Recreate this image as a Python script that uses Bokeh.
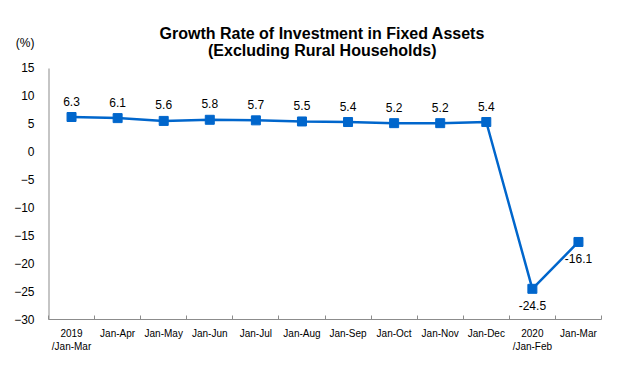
from bokeh.plotting import figure
from bokeh.models import FixedTicker, Label, ColumnDataSource, Range1d
from bokeh.embed import file_html
from bokeh.resources import INLINE
from bokeh.core.properties import value

categories = ["2019\n/Jan-Mar", "Jan-Apr", "Jan-May", "Jan-Jun", "Jan-Jul", "Jan-Aug",
              "Jan-Sep", "Jan-Oct", "Jan-Nov", "Jan-Dec", "2020\n/Jan-Feb", "Jan-Mar"]
growth = [6.3, 6.1, 5.6, 5.8, 5.7, 5.5, 5.4, 5.2, 5.2, 5.4, -24.5, -16.1]
y_ticks = [15, 10, 5, 0, -5, -10, -15, -20, -25, -30]
title_lines = ["Growth Rate of Investment in Fixed Assets", "(Excluding Rural Households)"]
unit_label = "(%)"

FONT = "Liberation Sans"
BLUE = "#0066CC"
AXIS = "#8c8c8c"

y_min, y_max = min(y_ticks), max(y_ticks)
header_room = 8.6  # extra value-space above the axis for the header text

xs = [i + 0.5 for i in range(len(categories))]
labels = [f"{v:.1f}" for v in growth]
above = [v > -10 for v in growth]

p = figure(width=603, height=357, output_backend="svg", toolbar_location=None,
           x_range=Range1d(0, len(categories)), y_range=Range1d(y_min, y_max + header_room),
           min_border_left=48, min_border_right=2, min_border_top=20, min_border_bottom=38)
p.outline_line_color = None
p.grid.visible = False
p.background_fill_color = "white"
p.border_fill_color = "white"

# y axis line (only over the value span)
p.segment(x0=[0], y0=[y_min], x1=[0], y1=[y_max], line_color=AXIS, line_width=2)

p.line(xs, growth, line_color=BLUE, line_width=2.5)
p.scatter(xs, growth, marker="square", size=9, fill_color=BLUE, line_color=BLUE)

src_up = ColumnDataSource(dict(x=[x for x, a in zip(xs, above) if a],
                               y=[v for v, a in zip(growth, above) if a],
                               t=[l for l, a in zip(labels, above) if a]))
src_dn = ColumnDataSource(dict(x=[x for x, a in zip(xs, above) if not a],
                               y=[v for v, a in zip(growth, above) if not a],
                               t=[l for l, a in zip(labels, above) if not a]))
p.text(x="x", y="y", text="t", source=src_up, y_offset=-16, text_align="center",
       text_baseline="middle", text_font=value(FONT), text_font_size="12px", text_color="#000000")
p.text(x="x", y="y", text="t", source=src_dn, y_offset=17, text_align="center",
       text_baseline="middle", text_font=value(FONT), text_font_size="12px", text_color="#000000")

# x axis: labels centred in categories, ticks at boundaries
xa = p.xaxis[0]
xa.ticker = FixedTicker(ticks=xs, minor_ticks=list(range(len(categories) + 1)))
xa.major_label_overrides = {x: c for x, c in zip(xs, categories)}
xa.major_tick_line_color = None
xa.minor_tick_in = 4
xa.minor_tick_out = 0
xa.minor_tick_line_color = AXIS
xa.axis_line_color = AXIS
xa.major_label_text_font = FONT
xa.major_label_text_font_size = "10px"
xa.major_label_text_color = "#000000"
xa.major_label_standoff = 2

# y axis: numeric ticks plus the unit label above the top tick
unit_pos = y_max + 4.5
ya = p.yaxis[0]
ya.ticker = FixedTicker(ticks=y_ticks + [unit_pos])
ya.major_label_overrides = {unit_pos: unit_label}
ya.major_tick_line_color = None
ya.minor_tick_line_color = None
ya.axis_line_color = None
ya.major_label_text_font = FONT
ya.major_label_text_font_size = "12px"
ya.major_label_text_color = "#000000"
ya.major_label_standoff = 8

p.add_layout(Label(x=5.94, y=y_max + 6.27, text=title_lines[0], text_align="center", text_baseline="middle",
                   text_font=FONT, text_font_size="16px", text_font_style="bold", text_color="#000000"))
p.add_layout(Label(x=5.94, y=y_max + 3.23, text=title_lines[1], text_align="center", text_baseline="middle",
                   text_font=FONT, text_font_size="16px", text_font_style="bold", text_color="#000000"))

open("out.html", "w").write(file_html(p, INLINE))
